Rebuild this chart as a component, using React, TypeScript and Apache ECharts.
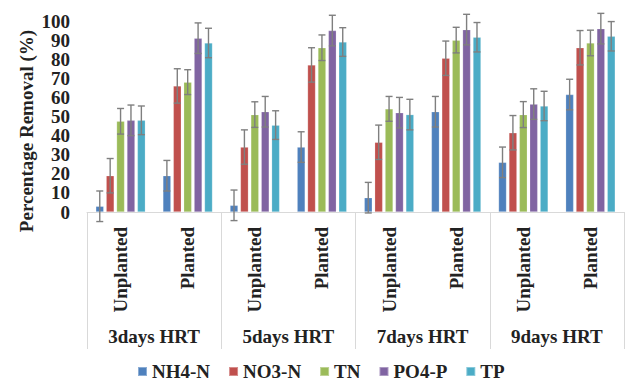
import React, { useEffect, useRef } from "react";
import * as echarts from "echarts";

const treatments = ["Unplanted", "Planted", "Unplanted", "Planted", "Unplanted", "Planted", "Unplanted", "Planted"];
const hrtGroups = ["3days HRT", "5days HRT", "7days HRT", "9days HRT"];
const yTicks = { min: 0, max: 100, interval: 10 };

const seriesNames = ["NH4-N", "NO3-N", "TN", "PO4-P", "TP"];
const seriesColors = ["#4F81BD", "#C0504D", "#9BBB59", "#8064A2", "#4BACC6"];

const nh4 = [3, 19, 3.5, 34, 7.5, 52.5, 26, 61.5];
const no3 = [19, 66, 34, 77, 36.5, 80.5, 41.5, 86];
const tn = [47.5, 68, 51, 86, 54, 90, 51, 88.5];
const po4 = [48, 91, 52.5, 95, 52, 95.5, 56.5, 96];
const tp = [48, 88.5, 45.5, 89, 51, 91.5, 55.5, 92];

const nh4Err = [8, 8, 8, 8, 8, 8, 8, 8];
const no3Err = [9, 9, 9, 9, 9, 9, 9, 9];
const tnErr = [6.7, 6.5, 6.7, 6.7, 6.5, 6.7, 6.8, 6.7];
const po4Err = [8, 8, 8, 8, 8, 8, 8, 8];
const tpErr = [7.5, 7.7, 7.5, 7.5, 8, 7.7, 7.7, 7.7];

const values = [nh4, no3, tn, po4, tp];
const errors = [nh4Err, no3Err, tnErr, po4Err, tpErr];

const FONT = '"Liberation Serif", "Times New Roman", serif';
const TEXT_COLOR = "#222222";
const BAR_W = 8;
const BAR_GAP_PX = 2.4;

export default function App() {
  const ref = useRef<HTMLDivElement>(null);
  useEffect(() => {
    document.body.style.margin = "0";
    const chart = echarts.init(ref.current!, undefined, { renderer: "svg" });
    const n = seriesNames.length;
    const barSeries = seriesNames.map((name, i) => ({
      name,
      type: "bar",
      xAxisIndex: 0,
      data: values[i],
      barWidth: BAR_W,
      barGap: `${(BAR_GAP_PX / BAR_W) * 100}%`,
      itemStyle: { color: seriesColors[i], borderColor: "rgba(255,255,255,0.35)", borderWidth: 0.6 },
      z: 2,
    }));
    const errSeries = seriesNames.map((name, i) => ({
      name: name + " error",
      type: "custom",
      xAxisIndex: 0,
      z: 4,
      clip: false,
      data: values[i].map((v, k) => [k, v - errors[i][k], v + errors[i][k]]),
      renderItem: (params: any, api: any) => {
        const cat = api.value(0);
        const offset = (i - (n - 1) / 2) * (BAR_W + BAR_GAP_PX);
        const lo = api.coord([cat, api.value(1)]);
        const hi = api.coord([cat, api.value(2)]);
        const x = lo[0] + offset;
        const capHalf = 3.5;
        const style = { stroke: "#7f7f7f", lineWidth: 1.4 };
        return {
          type: "group",
          children: [
            { type: "line", shape: { x1: x, y1: lo[1], x2: x, y2: hi[1] }, style },
            { type: "line", shape: { x1: x - capHalf, y1: lo[1], x2: x + capHalf, y2: lo[1] }, style },
            { type: "line", shape: { x1: x - capHalf, y1: hi[1], x2: x + capHalf, y2: hi[1] }, style },
          ],
        };
      },
    }));

    chart.setOption({
      animation: false,
      textStyle: { fontFamily: FONT },
      grid: { left: 87, right: 3, top: 21, bottom: 171, containLabel: false },
      legend: {
        data: seriesNames,
        left: 137,
        top: 362,
        padding: 0,
        icon: "rect",
        itemWidth: 9,
        itemHeight: 9,
        itemGap: 18,
        textStyle: { fontFamily: FONT, fontWeight: "bold", fontSize: 19, color: TEXT_COLOR },
      },
      xAxis: [
        {
          type: "category",
          data: treatments,
          position: "bottom",
          axisLine: { show: true, lineStyle: { color: "#d9d9d9", width: 1 } },
          axisTick: { show: false },
          axisLabel: {
            rotate: 90,
            margin: 15,
            fontFamily: FONT,
            fontWeight: "bold",
            fontSize: 19,
            color: TEXT_COLOR,
          },
        },
        {
          type: "category",
          data: hrtGroups,
          position: "bottom",
          axisLine: { show: false },
          axisTick: { show: true, length: 137, lineStyle: { color: "#d9d9d9", width: 1 } },
          axisLabel: {
            margin: 115,
            fontFamily: FONT,
            fontWeight: "bold",
            fontSize: 19,
            color: TEXT_COLOR,
          },
        },
      ],
      yAxis: {
        type: "value",
        min: yTicks.min,
        max: yTicks.max,
        interval: yTicks.interval,
        axisLine: { show: false },
        axisTick: { show: false },
        splitLine: { show: false },
        axisLabel: {
          margin: 17,
          fontFamily: FONT,
          fontWeight: "bold",
          fontSize: 19,
          color: TEXT_COLOR,
        },
      },
      graphic: [
        {
          type: "text",
          x: 26,
          y: 131,
          rotation: Math.PI / 2,
          style: {
            text: "Percentage Removal (%)",
            font: `bold 19px ${FONT}`,
            fill: TEXT_COLOR,
            align: "center",
            verticalAlign: "middle",
          },
        },
      ],
      series: [...barSeries, ...errSeries],
    });
    return () => chart.dispose();
  }, []);
  return <div ref={ref} style={{ width: 627, height: 383 }} />;
}
